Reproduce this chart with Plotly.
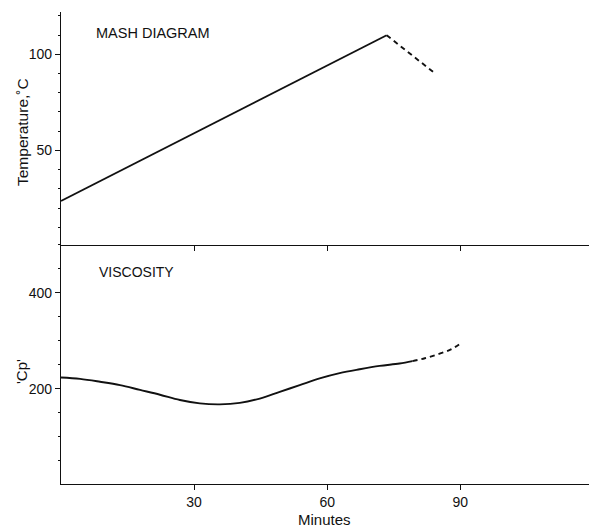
import plotly.graph_objects as go

# Data
temp_solid_min = [0, 73.4]
temp_solid_val = [23.7, 109.9]
temp_dash_min = [73.4, 83.9]
temp_dash_val = [109.9, 90.8]

visc_solid_min = [0, 4.3, 8.8, 13.3, 17.8, 22.3, 26.8, 31.3, 35.8, 40.3, 44.8, 49.3, 53.8, 58.3, 62.8, 67.3, 71.8, 76.3, 79.2]
visc_solid_val = [224, 221, 215, 208, 198, 188, 177, 170, 168, 171, 180, 194, 208, 222, 233, 241, 248, 253, 258]
visc_dash_min = [79.2, 82.0, 85.2, 88.0, 90.1]
visc_dash_val = [258, 264, 273, 283, 295]

x_ticks = [30, 60, 90]
temp_ticks = [50, 100]
visc_ticks = [200, 400]

FONT = "Liberation Sans, Arial, sans-serif"
INK = "#111111"

fig = go.Figure()
line_solid = dict(color=INK, width=1.9)
line_dash = dict(color=INK, width=1.9, dash="5px,4px")

fig.add_trace(go.Scatter(x=temp_solid_min, y=temp_solid_val, mode="lines", line=line_solid,
                         xaxis="x", yaxis="y", showlegend=False, hoverinfo="skip"))
fig.add_trace(go.Scatter(x=temp_dash_min, y=temp_dash_val, mode="lines", line=line_dash,
                         xaxis="x", yaxis="y", showlegend=False, hoverinfo="skip"))
fig.add_trace(go.Scatter(x=visc_solid_min, y=visc_solid_val, mode="lines",
                         line=dict(line_solid, shape="spline", smoothing=1.0),
                         xaxis="x2", yaxis="y2", showlegend=False, hoverinfo="skip"))
fig.add_trace(go.Scatter(x=visc_dash_min, y=visc_dash_val, mode="lines",
                         line=dict(line_dash, shape="spline", smoothing=1.0),
                         xaxis="x2", yaxis="y2", showlegend=False, hoverinfo="skip"))

split = 0.5064
TICKFONT = dict(family=FONT, size=14, color=INK)
common_x = dict(range=[0, 119], showgrid=False, zeroline=False, showline=True,
                linecolor=INK, linewidth=1.3, tickmode="array", tickvals=x_ticks,
                ticks="outside", ticklen=5, tickwidth=1.3, tickcolor=INK)
common_y = dict(showgrid=False, zeroline=False, showline=True, linecolor=INK, linewidth=1.3,
                ticks="outside", ticklen=5, tickwidth=1.3, tickcolor=INK,
                tickfont=TICKFONT)

fig.update_layout(
    width=589, height=527,
    margin=dict(l=61, r=0, t=12, b=43),
    paper_bgcolor="white", plot_bgcolor="white",
    font=dict(family=FONT, size=14, color=INK),
    xaxis=dict(common_x, anchor="y", domain=[0, 1], showticklabels=False),
    yaxis=dict(common_y, anchor="x", domain=[split, 1], range=[0.8, 122],
               tickvals=temp_ticks, minor=dict(ticks="outside", ticklen=2, tickcolor=INK, dtick=10)),
    xaxis2=dict(common_x, anchor="y2", domain=[0, 1], matches="x", tickfont=TICKFONT),
    yaxis2=dict(common_y, anchor="x2", domain=[0, split], range=[2, 500],
                tickvals=visc_ticks, minor=dict(ticks="outside", ticklen=2, tickcolor=INK, dtick=50)),
    annotations=[
        dict(text="MASH DIAGRAM", xref="paper", yref="paper", x=(94 - 61) / 528, y=(484 - 33) / 472,
             xanchor="left", yanchor="middle", showarrow=False, font=dict(family=FONT, size=14.5, color=INK)),
        dict(text="VISCOSITY", xref="paper", yref="paper", x=(97 - 61) / 528, y=(484 - 272) / 472,
             xanchor="left", yanchor="middle", showarrow=False, font=dict(family=FONT, size=14, color=INK)),
        dict(text="Temperature,˚C", xref="paper", yref="paper", x=(22 - 61) / 528, y=(484 - 132) / 472,
             xanchor="center", yanchor="middle", textangle=-90, showarrow=False,
             font=dict(family=FONT, size=15.5, color=INK)),
        dict(text="'Cp'", xref="paper", yref="paper", x=(21 - 61) / 528, y=(484 - 372) / 472,
             xanchor="center", yanchor="middle", textangle=-90, showarrow=False,
             font=dict(family=FONT, size=15, color=INK)),
        dict(text="Minutes", xref="paper", yref="paper", x=(324 - 61) / 528, y=(484 - 519) / 472,
             xanchor="center", yanchor="middle", showarrow=False, font=dict(family=FONT, size=15, color=INK)),
    ],
)

fig.write_html("out.html")
